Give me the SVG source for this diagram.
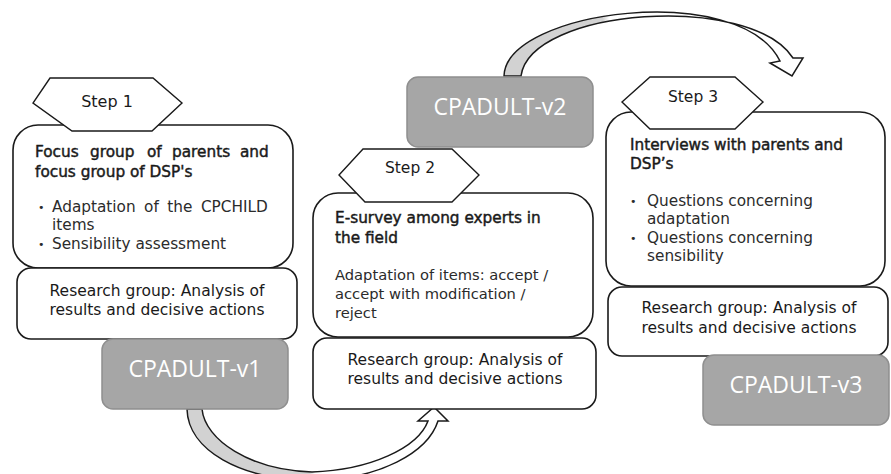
<svg xmlns="http://www.w3.org/2000/svg" width="891" height="474" viewBox="0 0 891 474">
<style>
.box{fill:#fff;stroke:#1a1a1a;stroke-width:1.6}
.hex{fill:#fff;stroke:#1a1a1a;stroke-width:1.4}
.ver{fill:#a6a6a6;stroke:#8f8f8f;stroke-width:1.5}
.vt{font-family:"Open Sans","DejaVu Sans",sans-serif;font-size:23px;fill:#fff;text-anchor:middle}
.st{font-family:"DejaVu Sans",Verdana,sans-serif;font-size:15.5px;fill:#1a1a1a;text-anchor:middle}
.hd{font-family:"DejaVu Sans",Verdana,sans-serif;font-size:15.3px;fill:#1a1a1a;stroke:#1a1a1a;stroke-width:0.45}
.bd{font-family:"DejaVu Sans",Verdana,sans-serif;font-size:15.3px;fill:#2b2b2b}
.bu{font-family:"DejaVu Sans",Verdana,sans-serif;font-size:11px;fill:#2b2b2b}
.rg{font-family:"DejaVu Sans",Verdana,sans-serif;font-size:15.5px;fill:#1a1a1a;text-anchor:middle}
.arr{stroke:#1a1a1a;stroke-width:1.5;stroke-linejoin:miter}
</style>
<defs>
<linearGradient id="gTop" gradientUnits="userSpaceOnUse" x1="504" y1="0" x2="804" y2="0">
<stop offset="0" stop-color="#d2d2d2"/><stop offset="0.33" stop-color="#d2d2d2"/><stop offset="0.35" stop-color="#fff"/><stop offset="1" stop-color="#fff"/>
</linearGradient>
<linearGradient id="gBot" gradientUnits="userSpaceOnUse" x1="187" y1="0" x2="448" y2="0">
<stop offset="0" stop-color="#d2d2d2"/><stop offset="0.47" stop-color="#d2d2d2"/><stop offset="0.49" stop-color="#fff"/><stop offset="1" stop-color="#fff"/>
</linearGradient>
</defs>

<g id="connectors">
<path class="arr" fill="url(#gTop)" d="M504,76 C506,10 740,-20 780,61 L770,63 L792,76 L803,58 L793,58 C750,-8 530,8 521,76 Z"/>
<path class="arr" fill="url(#gBot)" d="M187,409 C188,450 240,480 312,480 C380,480 428,452 438,421 L448,421 L434,407 L418,421 L428,421 C418,448 370,470 312,472 C250,470 205,440 202,409 Z"/>
</g>

<g id="step1-box">
<rect class="box" x="13" y="125" width="280" height="143" rx="25"/>
<text class="hd" y="157"><tspan x="35">Focus</tspan><tspan x="90">group</tspan><tspan x="147">of</tspan><tspan x="172">parents</tspan><tspan x="240">and</tspan></text>
<text class="hd" x="35" y="177">focus group of DSP's</text>
<text class="bu" x="38" y="211">•</text>
<text class="bd" x="52" y="212" word-spacing="3.6">Adaptation of the CPCHILD</text>
<text class="bd" x="52" y="230">items</text>
<text class="bu" x="38" y="248">•</text>
<text class="bd" x="52" y="249">Sensibility assessment</text>
</g>
<g id="step1">
<polygon class="hex" points="50,78 153,78 182,103 152,131 72,131 33,103"/>
<text class="st" x="107" y="107" style="font-size:16px">Step 1</text>
</g>
<g id="research1">
<rect class="box" x="17" y="268" width="280" height="71" rx="14"/>
<text class="rg" x="157" y="296">Research group: Analysis of</text>
<text class="rg" x="157" y="315">results and decisive actions</text>
</g>
<g id="v1">
<rect class="ver" x="102" y="339" width="186" height="70" rx="11"/>
<text class="vt" x="195" y="377">CPADULT-v1</text>
</g>

<g id="step2-box">
<rect class="box" x="313" y="193" width="280" height="144" rx="25"/>
<text class="hd" x="335" y="223">E-survey among experts in</text>
<text class="hd" x="335" y="243">the field</text>
<text class="bd" x="335" y="280" style="font-size:14.7px">Adaptation of items: accept /</text>
<text class="bd" x="335" y="299" style="font-size:14.7px">accept with modification /</text>
<text class="bd" x="335" y="318" style="font-size:14.7px">reject</text>
</g>
<g id="step2">
<polygon class="hex" points="363,149 452,149 479,175 452,202 365,202 339,175"/>
<text class="st" x="410" y="173">Step 2</text>
</g>
<g id="research2">
<rect class="box" x="313" y="338" width="283" height="71" rx="14"/>
<text class="rg" x="455" y="365">Research group: Analysis of</text>
<text class="rg" x="455" y="384">results and decisive actions</text>
</g>
<g id="v2">
<rect class="ver" x="407" y="77" width="186" height="70" rx="11"/>
<text class="vt" x="500" y="115">CPADULT-v2</text>
</g>

<g id="step3-box">
<rect class="box" x="606" y="112" width="279" height="174" rx="25"/>
<text class="hd" x="630" y="150">Interviews with parents and</text>
<text class="hd" x="630" y="169">DSP’s</text>
<text class="bu" x="630" y="205">•</text>
<text class="bd" x="647" y="206">Questions concerning</text>
<text class="bd" x="647" y="224">adaptation</text>
<text class="bu" x="630" y="242">•</text>
<text class="bd" x="647" y="243">Questions concerning</text>
<text class="bd" x="647" y="261">sensibility</text>
</g>
<g id="step3">
<polygon class="hex" points="650,77 735,77 763,102 735,129 650,129 622,102"/>
<text class="st" x="693" y="102">Step 3</text>
</g>
<g id="research3">
<rect class="box" x="608" y="287" width="280" height="69" rx="14"/>
<text class="rg" x="749" y="313">Research group: Analysis of</text>
<text class="rg" x="749" y="333">results and decisive actions</text>
</g>
<g id="v3">
<rect class="ver" x="703" y="355" width="186" height="70" rx="11"/>
<text class="vt" x="796" y="393">CPADULT-v3</text>
</g>
</svg>
